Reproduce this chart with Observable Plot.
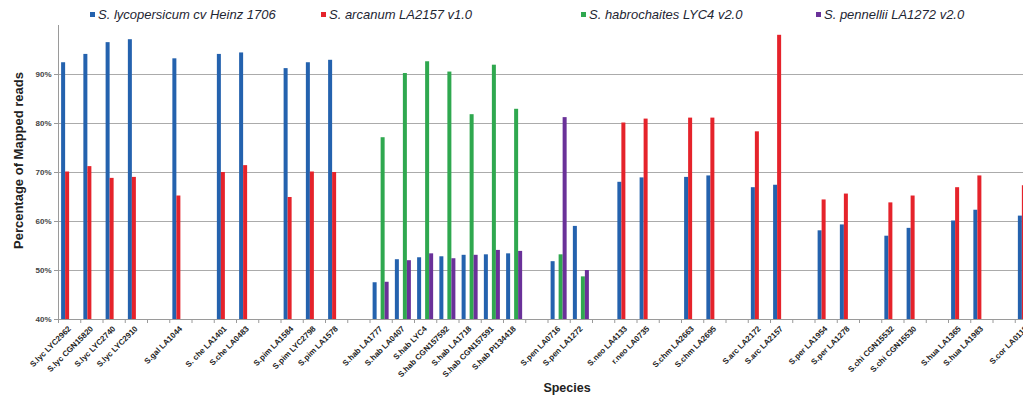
<!DOCTYPE html>
<html><head><meta charset="utf-8">
<script src="https://cdn.jsdelivr.net/npm/d3@7"></script>
<script src="https://cdn.jsdelivr.net/npm/@observablehq/plot@0.6"></script>
<style>
html,body{margin:0;padding:0;background:#fff;overflow:hidden;width:1023px;height:396px}
#legend{position:relative;height:22px;font-family:"Liberation Sans",Arial,sans-serif;font-style:italic;font-size:13px;color:#1e2633}
#legend .lab{position:absolute;top:7px;line-height:15px;white-space:nowrap}
#legend .sw{position:absolute;top:12px;width:5px;height:5px}
</style></head><body>
<div id="legend"></div><div id="chart"></div>
<script>
// ---- data ----
const categories = ["S.lyc LYC2962","S.lyc CGN15820","S.lyc LYC2740","S.lyc LYC2910",null,"S.gal LA1044",null,"S. che LA1401","S.che LA0483",null,"S.pim LA1584","S.pim LYC2798","S.pim LA1578",null,"S.hab LA1777","S.hab LA0407","S.hab LYC4","S.hab CGN157592","S.hab LA1718","S.hab CGN157591","S.hab PI134418",null,"S.pen LA0716","S.pen LA1272",null,"S.neo LA4133","r.neo LA0735",null,"S.chm LA2663","S.chm LA2695",null,"S.arc LA2172","S.arc LA2157",null,"S.per LA1954","S.per LA1278",null,"S.chi CGN15532","S.chi CGN15530",null,"S.hua LA1365","S.hua LA1983",null,"S.cor LA0118"];
const heinz = [92.4,94.1,96.5,97.1,null,93.2,null,94.1,94.4,null,91.2,92.4,92.9,null,47.5,52.2,52.6,52.8,53.1,53.2,53.4,null,51.8,59.0,null,68.0,68.9,null,69.0,69.3,null,66.9,67.4,null,58.1,59.3,null,57.0,58.6,null,60.1,62.3,null,61.1];
const arcanum = [70.1,71.2,68.8,69.0,null,65.2,null,70.0,71.4,null,64.9,70.1,70.0,null,null,null,null,null,null,null,null,null,null,null,null,80.1,80.9,null,81.1,81.1,null,78.3,98.0,null,64.4,65.6,null,63.8,65.2,null,66.9,69.3,null,67.3];
const habrochaites = [null,null,null,null,null,null,null,null,null,null,null,null,null,null,77.1,90.2,92.6,90.5,81.8,91.9,82.9,null,53.2,48.7,null,null,null,null,null,null,null,null,null,null,null,null,null,null,null,null,null,null,null,null];
const pennellii = [null,null,null,null,null,null,null,null,null,null,null,null,null,null,47.6,52.0,53.4,52.4,53.1,54.1,53.9,null,81.2,50.0,null,null,null,null,null,null,null,null,null,null,null,null,null,null,null,null,null,null,null,null];
const seriesNames = ["S. lycopersicum cv Heinz 1706","S. arcanum LA2157 v1.0","S. habrochaites LYC4 v2.0","S. pennellii LA1272 v2.0"];
const yTicks = [40,50,60,70,80,90];

// ---- styling / layout ----
const seriesColors = ["#2462ae","#e5232b","#2fa84f","#6a3199"];
const legendLeft = [98,329,589,824];
const W = 1023, H = 374, mL = 58, step = 22.25;
const xMax = (W - mL) / step;
const barW = 0.18, groupPad = (1 - 4 * barW) / 2;

const seriesValues = [heinz, arcanum, habrochaites, pennellii];
const rows = [];
categories.forEach((c, i) => seriesValues.forEach((vals, s) => {
  if (vals[i] != null) rows.push({slot: i, s, series: seriesNames[s], value: vals[i]});
}));
const centers = categories.map((c, i) => c == null ? null : i + 0.5).filter(d => d != null);
const bounds = d3.range(0, categories.length + 1).filter(d => d <= xMax);

const leg = document.getElementById("legend");
seriesNames.forEach((n, i) => {
  const sw = document.createElement("div"); sw.className = "sw";
  sw.style.left = (legendLeft[i] - 8) + "px"; sw.style.background = seriesColors[i];
  const lab = document.createElement("div"); lab.className = "lab";
  lab.style.left = legendLeft[i] + "px"; lab.textContent = n;
  leg.appendChild(sw); leg.appendChild(lab);
});

const chart = Plot.plot({
  width: W, height: H, marginLeft: mL, marginRight: 0, marginTop: 3, marginBottom: 77,
  style: {fontFamily: "Liberation Sans, Arial, sans-serif", overflow: "visible", background: "#fff"},
  x: {type: "linear", domain: [0, xMax], axis: null},
  y: {domain: [40, 100], axis: null},
  color: {domain: seriesNames, range: seriesColors},
  marks: [
    Plot.gridY(yTicks.filter(t => t > 40), {stroke: "#ababab", strokeOpacity: 1, strokeWidth: 1}),
    Plot.rect(rows, {
      x1: d => d.slot + groupPad + d.s * barW,
      x2: d => d.slot + groupPad + (d.s + 1) * barW,
      y1: 40, y2: "value", fill: "series"
    }),
    Plot.ruleY([40], {stroke: "#9a9a9a"}),
    Plot.ruleX([0], {stroke: "#9a9a9a"}),
    Plot.axisY({ticks: yTicks, tickFormat: d => d + "%", tickSize: 4, tickPadding: 3,
      fontSize: 8, fontWeight: "bold", fill: "#444", stroke: "#9a9a9a", label: null}),
    Plot.axisX({ticks: bounds, tickFormat: () => "", tickSize: 4, stroke: "#9a9a9a", label: null}),
    Plot.axisX({ticks: centers, tickFormat: d => categories[Math.floor(d)], tickSize: 0,
      tickRotate: -45, tickPadding: 8, fontSize: 8, fontWeight: "bold", fill: "#222", label: null}),
    Plot.text(["Percentage of Mapped reads"], {frameAnchor: "left", textAnchor: "middle", rotate: -90, dx: -40, dy: -12,
      fontSize: 13, fontWeight: "bold", fill: "#222"}),
    Plot.text(["Species"], {frameAnchor: "bottom", dx: 26, dy: 72, fontSize: 12.5, fontWeight: "bold", fill: "#222"})
  ]
});
document.getElementById("chart").appendChild(chart);
</script>
</body></html>
